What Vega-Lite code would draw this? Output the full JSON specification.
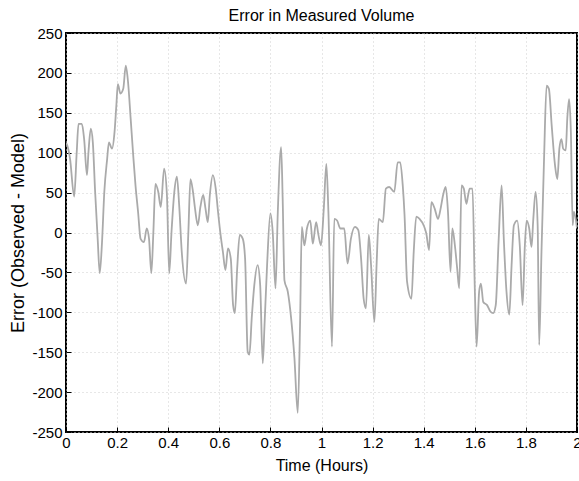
{
  "$schema": "https://vega.github.io/schema/vega-lite/v6.json",
  "width": 511,
  "height": 399,
  "autosize": {"type": "none"},
  "padding": {"left": 66, "top": 33, "right": 2, "bottom": 49},
  "background": "white",
  "title": {"text": "Error in Measured Volume", "font": "Liberation Sans", "fontSize": 16, "fontWeight": "normal", "color": "#000", "offset": 2},
  "config": {
    "view": {"stroke": "#000", "strokeWidth": 2},
    "axis": {
      "labelFont": "Liberation Sans", "labelFontSize": 15, "labelColor": "#000",
      "titleFont": "Liberation Sans", "titleFontSize": 16, "titleFontWeight": "normal", "titleColor": "#000",
      "domain": false, "tickColor": "#000", "tickSize": -5, "tickWidth": 1,
      "gridColor": "#cfcfcf", "gridDash": [1, 3], "gridWidth": 1
    }
  },
  "data": {"values": [
    {"t":0.0,"v":112},{"t":0.005,"v":109},{"t":0.016,"v":92},{"t":0.032,"v":45},{"t":0.042,"v":101},{"t":0.049,"v":136},{"t":0.062,"v":136},{"t":0.071,"v":117},{"t":0.082,"v":72},{"t":0.088,"v":101},{"t":0.097,"v":130},{"t":0.105,"v":113},{"t":0.114,"v":51},{"t":0.124,"v":-8},{"t":0.132,"v":-51},{"t":0.141,"v":-12},{"t":0.150,"v":51},{"t":0.161,"v":92},{"t":0.168,"v":113},{"t":0.180,"v":105},{"t":0.190,"v":126},{"t":0.197,"v":159},{"t":0.203,"v":186},{"t":0.213,"v":174},{"t":0.224,"v":180},{"t":0.234,"v":209},{"t":0.243,"v":188},{"t":0.253,"v":143},{"t":0.263,"v":97},{"t":0.272,"v":59},{"t":0.282,"v":26},{"t":0.292,"v":-8},{"t":0.305,"v":-12},{"t":0.316,"v":5},{"t":0.325,"v":-8},{"t":0.334,"v":-51},{"t":0.342,"v":1},{"t":0.350,"v":61},{"t":0.361,"v":51},{"t":0.371,"v":32},{"t":0.384,"v":80},{"t":0.395,"v":47},{"t":0.404,"v":-51},{"t":0.413,"v":1},{"t":0.424,"v":51},{"t":0.434,"v":70},{"t":0.443,"v":34},{"t":0.453,"v":-24},{"t":0.470,"v":-64},{"t":0.479,"v":1},{"t":0.487,"v":67},{"t":0.497,"v":51},{"t":0.505,"v":30},{"t":0.516,"v":9},{"t":0.526,"v":32},{"t":0.537,"v":47},{"t":0.546,"v":30},{"t":0.555,"v":13},{"t":0.563,"v":47},{"t":0.575,"v":72},{"t":0.586,"v":55},{"t":0.595,"v":26},{"t":0.605,"v":-3},{"t":0.614,"v":-24},{"t":0.624,"v":-47},{"t":0.634,"v":-20},{"t":0.645,"v":-33},{"t":0.654,"v":-91},{"t":0.661,"v":-101},{"t":0.670,"v":-45},{"t":0.680,"v":-3},
    {"t":0.692,"v":-8},{"t":0.701,"v":-33},{"t":0.711,"v":-149},{"t":0.718,"v":-153},{"t":0.727,"v":-107},{"t":0.737,"v":-66},{"t":0.750,"v":-41},{"t":0.760,"v":-66},{"t":0.770,"v":-164},{"t":0.777,"v":-116},{"t":0.787,"v":-41},{"t":0.800,"v":24},{"t":0.809,"v":1},{"t":0.820,"v":-70},{"t":0.829,"v":26},{"t":0.842,"v":107},{"t":0.848,"v":43},{"t":0.855,"v":-60},{"t":0.868,"v":-74},{"t":0.881,"v":-107},{"t":0.894,"v":-157},{"t":0.907,"v":-226},{"t":0.916,"v":-116},{"t":0.923,"v":7},{"t":0.933,"v":-16},{"t":0.943,"v":5},{"t":0.956,"v":15},{"t":0.966,"v":-14},{"t":0.979,"v":13},{"t":0.988,"v":-3},{"t":0.998,"v":-16},{"t":1.009,"v":30},{"t":1.019,"v":86},{"t":1.027,"v":26},{"t":1.041,"v":-143},{"t":1.050,"v":17},{"t":1.061,"v":15},{"t":1.074,"v":5},{"t":1.089,"v":5},{"t":1.102,"v":-39},{"t":1.115,"v":-8},{"t":1.131,"v":7},{"t":1.144,"v":3},{"t":1.155,"v":-33},{"t":1.165,"v":-83},{"t":1.174,"v":-95},{"t":1.185,"v":-3},{"t":1.194,"v":-41},{"t":1.207,"v":-112},{"t":1.216,"v":-37},{"t":1.224,"v":17},{"t":1.240,"v":13},{"t":1.252,"v":55},{"t":1.265,"v":57},{"t":1.285,"v":51},{"t":1.298,"v":88},{"t":1.308,"v":88},{"t":1.318,"v":59},{"t":1.325,"v":22},{"t":1.335,"v":-62},{"t":1.352,"v":-83},
    {"t":1.361,"v":-24},{"t":1.371,"v":20},{"t":1.384,"v":17},{"t":1.400,"v":9},{"t":1.410,"v":-1},{"t":1.421,"v":-22},{"t":1.430,"v":38},{"t":1.443,"v":30},{"t":1.456,"v":17},{"t":1.465,"v":28},{"t":1.476,"v":47},{"t":1.486,"v":57},{"t":1.495,"v":26},{"t":1.505,"v":-49},{"t":1.512,"v":5},{"t":1.522,"v":-16},{"t":1.531,"v":-45},{"t":1.539,"v":-70},{"t":1.548,"v":59},{"t":1.557,"v":55},{"t":1.567,"v":36},{"t":1.574,"v":47},{"t":1.580,"v":55},{"t":1.591,"v":55},{"t":1.600,"v":-70},{"t":1.607,"v":-143},{"t":1.617,"v":-74},{"t":1.624,"v":-64},{"t":1.633,"v":-87},{"t":1.648,"v":-91},{"t":1.661,"v":-99},{"t":1.672,"v":-101},{"t":1.682,"v":-91},{"t":1.693,"v":-12},{"t":1.705,"v":59},{"t":1.714,"v":-12},{"t":1.724,"v":-74},{"t":1.735,"v":-103},{"t":1.744,"v":-41},{"t":1.753,"v":9},{"t":1.766,"v":15},{"t":1.776,"v":-16},{"t":1.787,"v":-91},{"t":1.796,"v":-16},{"t":1.803,"v":15},{"t":1.813,"v":5},{"t":1.822,"v":-18},{"t":1.829,"v":17},{"t":1.838,"v":51},{"t":1.846,"v":9},{"t":1.852,"v":-141},{"t":1.861,"v":-24},{"t":1.871,"v":92},{"t":1.881,"v":184},{"t":1.890,"v":180},{"t":1.901,"v":134},{"t":1.914,"v":84},{"t":1.923,"v":67},{"t":1.931,"v":105},{"t":1.939,"v":117},{"t":1.946,"v":105},{"t":1.956,"v":103},{"t":1.962,"v":143},{"t":1.969,"v":167},{"t":1.976,"v":126},{"t":1.983,"v":9},{"t":1.988,"v":26},{"t":2.0,"v":5}
  ]},
  "mark": {"type": "line", "color": "#aaaaaa", "strokeWidth": 1.8, "clip": true, "interpolate": "monotone"},
  "encoding": {
    "x": {"field": "t", "type": "quantitative", "scale": {"domain": [0, 2], "nice": false, "zero": false},
      "axis": {"values": [0,0.2,0.4,0.6,0.8,1,1.2,1.4,1.6,1.8,2], "labelExpr": "'' + datum.value", "title": "Time (Hours)", "labelPadding": 8, "titlePadding": 7, "labelFlush": false, "labelOverlap": false}},
    "y": {"field": "v", "type": "quantitative", "scale": {"domain": [-250, 250], "nice": false},
      "axis": {"values": [-250,-200,-150,-100,-50,0,50,100,150,200,250], "labelExpr": "'' + datum.value", "title": "Error (Observed - Model)", "titleFontSize": 18, "labelPadding": 9, "titlePadding": 4, "labelFlush": false, "labelOverlap": false}}
  }
}
